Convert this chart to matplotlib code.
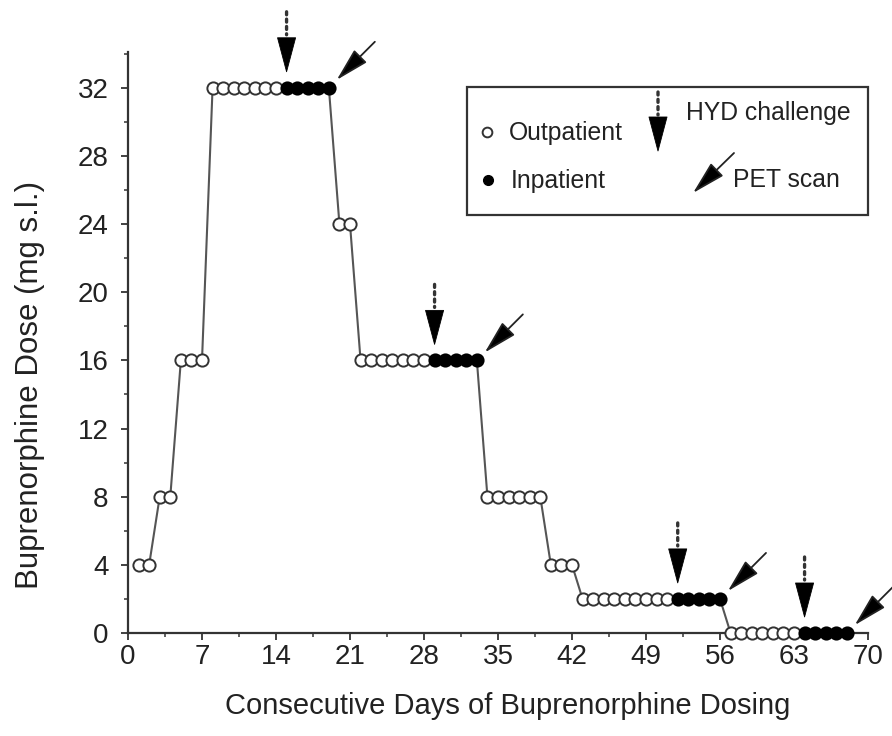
import matplotlib
matplotlib.use("Agg")
import matplotlib.pyplot as plt
from matplotlib.patches import Rectangle
from matplotlib.ticker import MultipleLocator

plt.rcParams['font.family'] = ['Liberation Sans', 'DejaVu Sans']

# ---- data ----
days = list(range(1, 69))
dose = ([4]*2 + [8]*2 + [16]*3 + [32]*12 + [24]*2 + [16]*12 + [8]*6 + [4]*3 + [2]*14 + [0]*12)
setting = (['out']*14 + ['in']*5 + ['out']*9 + ['in']*5 + ['out']*18 + ['in']*5 + ['out']*7 + ['in']*5)
hyd_days = [15, 29, 52, 64]
pet_days = [19, 33, 56, 68]
xticks = list(range(0, 71, 7))
yticks = list(range(0, 33, 4))

W, H = 892, 736
fig = plt.figure(figsize=(W/100, H/100), dpi=100)
ax = fig.add_axes([128/W, 1-633/H, 740/W, 581/H])

ink = '#222222'
ax.plot(days, dose, color='#555555', lw=1.5, zorder=2, clip_on=False)
out_x = [d for d, s in zip(days, setting) if s == 'out']
out_y = [v for v, s in zip(dose, setting) if s == 'out']
in_x = [d for d, s in zip(days, setting) if s == 'in']
in_y = [v for v, s in zip(dose, setting) if s == 'in']
ax.plot(out_x, out_y, 'o', ms=8.8, mfc='white', mec='#333333', mew=1.4, zorder=4, clip_on=False)
ax.plot(in_x, in_y, 'o', ms=8.8, mfc='black', mec='black', mew=1.4, zorder=4, clip_on=False)

dmap = dict(zip(days, dose))
for d in hyd_days:
    y = dmap[d]
    ax.annotate('', xy=(d, y), xytext=(0, 50), textcoords='offset pixels',
                arrowprops=dict(arrowstyle='wedge,tail_width=13,shrink_factor=0.5',
                                mutation_scale=1, fc='black', ec='black', lw=0.6,
                                shrinkA=0, shrinkB=16*0.72), zorder=5)
    ax.annotate('', xy=(d, y), xytext=(0, 76), textcoords='offset pixels',
                arrowprops=dict(arrowstyle='-', color='#333333', lw=2.4,
                                linestyle=(0, (0.9, 1.3)), shrinkA=0, shrinkB=53*0.72), zorder=5)
for d in pet_days:
    y = dmap[d]
    ax.annotate('', xy=(d, y), xytext=(46, 46), textcoords='offset pixels',
                arrowprops=dict(arrowstyle='-|>,head_length=21,head_width=5.5',
                                mutation_scale=1, fc='black', ec='#222222', lw=1.3,
                                shrinkA=0, shrinkB=8), annotation_clip=False, zorder=5)

ax.set_xlim(0, 70)
ax.set_ylim(0, 34.1)
ax.set_xticks(xticks)
ax.set_yticks(yticks)
ax.xaxis.set_minor_locator(MultipleLocator(3.5))
ax.yaxis.set_minor_locator(MultipleLocator(2))
for s in ['top', 'right']:
    ax.spines[s].set_visible(False)
for s in ['left', 'bottom']:
    ax.spines[s].set_color('#333333')
    ax.spines[s].set_linewidth(1.6)
ax.tick_params(which='major', direction='out', length=5, width=1.3, colors='#333333',
               labelsize=20, labelcolor=ink)
ax.tick_params(which='minor', direction='out', length=3, width=1.1, colors='#333333')
ax.tick_params(axis='x', pad=3)
ax.tick_params(axis='y', pad=9)

ax.set_xlabel('Consecutive Days of Buprenorphine Dosing', fontsize=21, color=ink, va='center')
ax.xaxis.set_label_coords(0.513, -0.126)
ax.set_ylabel('Buprenorphine Dose (mg s.l.)', fontsize=22.5, color=ink, va='center')
ax.yaxis.set_label_coords(-0.132, 0.427)

# ---- legend (drawn in figure pixel space) ----
def fx(x): return x / W
def fy(y): return 1 - y / H

fig.patches.append(Rectangle((fx(467), fy(215)), (868-467)/W, (215-87)/H,
                             transform=fig.transFigure, fill=False, ec='#333333', lw=1.6))
fig.lines.append(plt.Line2D([fx(487)], [fy(132)], marker='o', ms=7, mfc='white', mec='#333333',
                            mew=1.4, transform=fig.transFigure))
fig.lines.append(plt.Line2D([fx(488)], [fy(180)], marker='o', ms=7, mfc='black', mec='black',
                            transform=fig.transFigure))
lfs = 17.8
fig.text(fx(509), fy(133), 'Outpatient', fontsize=lfs, color=ink, va='center', ha='left')
fig.text(fx(511), fy(181), 'Inpatient', fontsize=lfs, color=ink, va='center', ha='left')
fig.text(fx(686), fy(113), 'HYD challenge', fontsize=lfs, color=ink, va='center', ha='left')
fig.text(fx(733), fy(180), 'PET scan', fontsize=lfs, color=ink, va='center', ha='left')
ax.annotate('', xy=(658, H-151), xycoords='figure pixels', xytext=(658, H-117),
            textcoords='figure pixels',
            arrowprops=dict(arrowstyle='wedge,tail_width=13,shrink_factor=0.5', mutation_scale=1,
                            fc='black', ec='black', lw=0.6, shrinkA=0, shrinkB=0),
            annotation_clip=False)
ax.annotate('', xy=(658, H-115), xycoords='figure pixels', xytext=(658, H-92),
            textcoords='figure pixels',
            arrowprops=dict(arrowstyle='-', color='#333333', lw=2.4, linestyle=(0, (0.9, 1.3)),
                            shrinkA=0, shrinkB=0), annotation_clip=False)
ax.annotate('', xy=(693, H-193), xycoords='figure pixels', xytext=(734, H-153),
            textcoords='figure pixels',
            arrowprops=dict(arrowstyle='-|>,head_length=21,head_width=5.5', mutation_scale=1,
                            fc='black', ec='#222222', lw=1.3, shrinkA=0, shrinkB=0),
            annotation_clip=False)

fig.savefig('out.png', dpi=100)
